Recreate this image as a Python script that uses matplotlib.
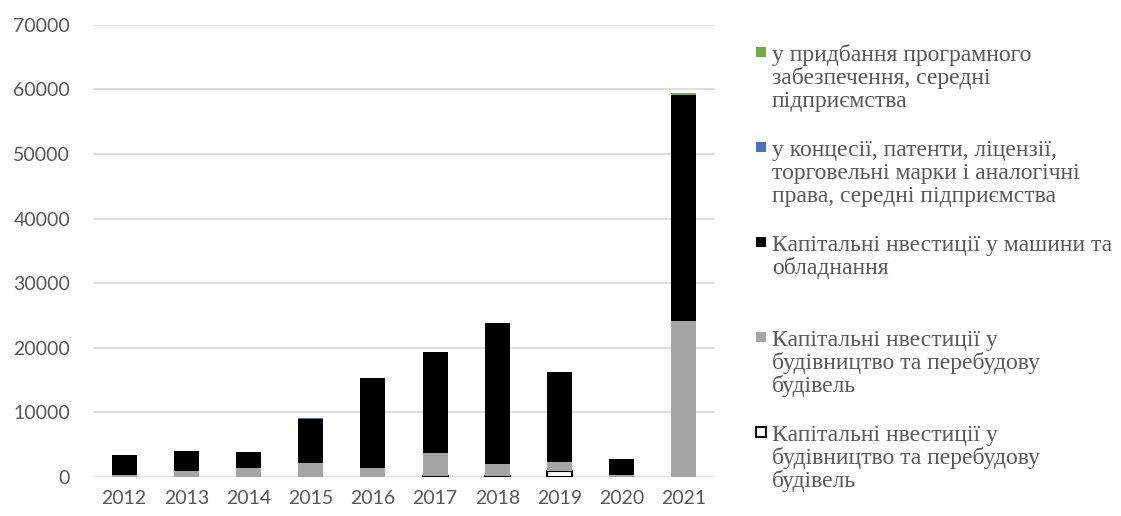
import numpy as np
import matplotlib
matplotlib.use("Agg")
import matplotlib.pyplot as plt
from matplotlib.patches import Rectangle

years = [2012, 2013, 2014, 2015, 2016, 2017, 2018, 2019, 2020, 2021]
# stacked from bottom to top
build_outline = [0, 0, 0, 0, 0, 200, 150, 880, 0, 0]
build_gray = [300, 900, 1400, 2120, 1390, 3460, 1860, 1490, 250, 24180]
machines = [3100, 3100, 2470, 6860, 13890, 15640, 21770, 13880, 2490, 34890]
licences = [0, 0, 0, 150, 0, 100, 0, 0, 0, 0]
software = [40, 40, 40, 0, 30, 0, 40, 40, 0, 360]

labels = [
    "у придбання програмного\nзабезпечення, середні\nпідприємства",
    "у концесії, патенти, ліцензії,\nторговельні марки і аналогічні\nправа, середні підприємства",
    "Капітальні нвестиції у машини та\nобладнання",
    "Капітальні нвестиції у\nбудівництво та перебудову\nбудівель",
    "Капітальні нвестиції у\nбудівництво та перебудову\nбудівель",
]

W, H = 1121, 516
fig = plt.figure(figsize=(W / 100, H / 100), dpi=100)
ax = fig.add_axes([93 / W, 39 / H, (715 - 93) / W, (477 - 24.8) / H])

x = np.arange(len(years))
bw = 0.4
bottom = np.zeros(len(years))
series = [
    (build_outline, "white", "black", 1.5),
    (build_gray, "#A5A5A5", "none", 0),
    (machines, "black", "none", 0),
    (licences, "#4472C4", "none", 0),
    (software, "#70AD47", "none", 0),
]
for vals, fc, ec, lw in series:
    v = np.array(vals, dtype=float)
    ax.bar(x, v, bw, bottom=bottom, color=fc, edgecolor=ec, linewidth=lw,
           zorder=3)
    bottom += v

ax.set_xlim(-0.5, len(years) - 0.5)
ax.set_ylim(0, 70000)
ax.set_yticks(np.arange(0, 70001, 10000))
ax.set_xticks(x)
ax.set_xticklabels([str(y) for y in years])
for s in ax.spines.values():
    s.set_visible(False)
ax.grid(axis="y", color="#D9D9D9", lw=1.2, zorder=0)
ax.tick_params(length=0, labelsize=14, labelcolor="#595959")
ax.tick_params(axis="y", pad=16.5)
ax.tick_params(axis="x", pad=9)
for t in ax.get_xticklabels() + ax.get_yticklabels():
    t.set_family("Lato")

# legend, drawn by hand: evenly spaced entries like the original
colors = ["#70AD47", "#4472C4", "black", "#A5A5A5", "white"]
edges = ["none", "none", "none", "none", "black"]
y0, step, line_h = 52, 95, 23
for i, (lab, fc, ec) in enumerate(zip(labels, colors, edges)):
    yc = y0 + i * step
    fig.patches.append(Rectangle((756 / W, 1 - (yc + 5) / H), 10 / W, 10 / H,
                                 transform=fig.transFigure, facecolor=fc,
                                 edgecolor=ec, linewidth=1.5))
    for j, line in enumerate(lab.split("\n")):
        fig.text(772 / W, 1 - (yc + 9 + j * line_h) / H, line,
                 family="Liberation Serif", fontsize=17, color="#595959",
                 va="baseline", ha="left")

fig.savefig("out.png", dpi=100)
